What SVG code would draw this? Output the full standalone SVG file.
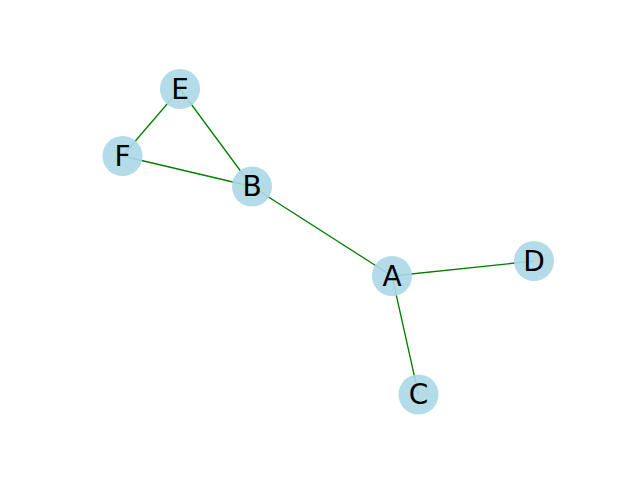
<svg xmlns="http://www.w3.org/2000/svg" width="640" height="480" viewBox="0 0 640 480">
  <style>
    .edge { stroke: #008000; stroke-width: 1.3; fill: none; }
    .node circle { fill: #add8e6; fill-opacity: 0.92; }
    .node text { font-family: "DejaVu Sans", sans-serif; font-size: 28px; fill: #000; text-anchor: middle; }
  </style>
  <rect width="640" height="480" fill="#ffffff"/>
  <g id="edges">
    <line class="edge" x1="180" y1="89" x2="122.5" y2="156"/>
    <line class="edge" x1="180" y1="89" x2="252" y2="186.5"/>
    <line class="edge" x1="122.5" y1="156" x2="252" y2="186.5"/>
    <line class="edge" x1="252" y1="186.5" x2="392" y2="276"/>
    <line class="edge" x1="392" y1="276" x2="534" y2="261"/>
    <line class="edge" x1="392" y1="276" x2="418.5" y2="394.5"/>
  </g>
  <g id="node-E" class="node"><circle cx="180" cy="89" r="20"/><text x="180" y="98.5">E</text></g>
  <g id="node-F" class="node"><circle cx="122.5" cy="156" r="20"/><text x="122.5" y="165.5">F</text></g>
  <g id="node-B" class="node"><circle cx="252" cy="186.5" r="20"/><text x="252" y="196">B</text></g>
  <g id="node-A" class="node"><circle cx="392" cy="276" r="20"/><text x="392" y="285.5">A</text></g>
  <g id="node-D" class="node"><circle cx="534" cy="261" r="20"/><text x="534" y="270.5">D</text></g>
  <g id="node-C" class="node"><circle cx="418.5" cy="394.5" r="20"/><text x="418.5" y="404">C</text></g>
</svg>
